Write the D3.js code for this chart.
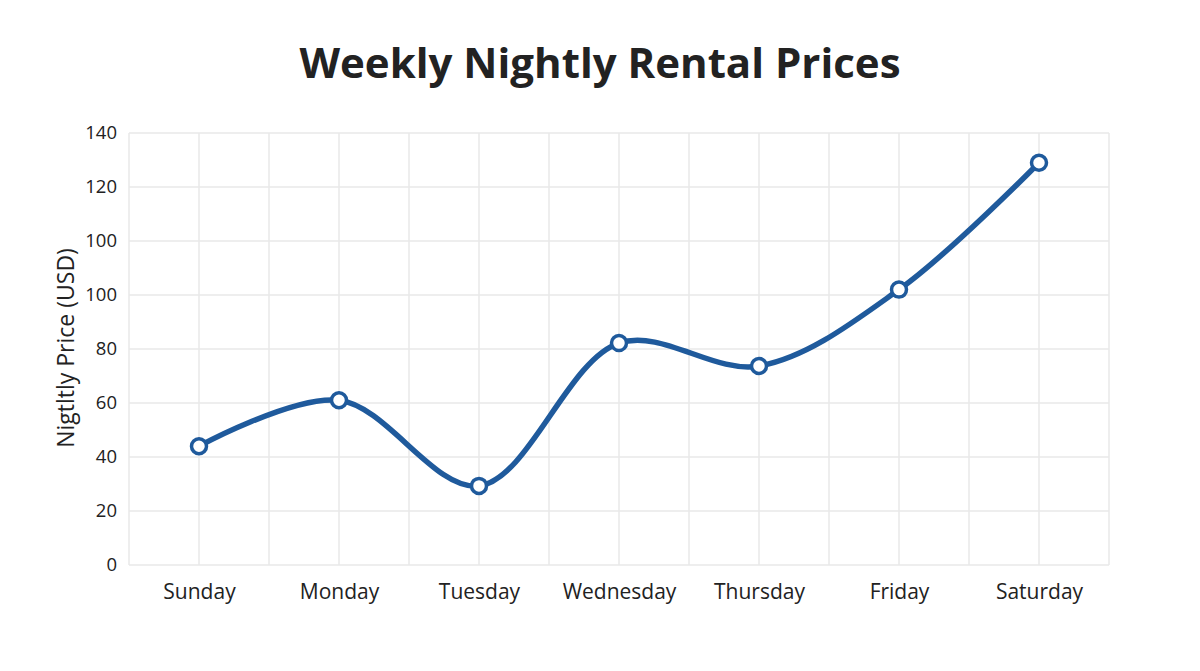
<!DOCTYPE html>
<html lang="en">
<head>
<meta charset="utf-8">
<title>Weekly Nightly Rental Prices</title>
<script src="https://d3js.org/d3.v7.min.js"></script>
<style>
  body { margin: 0; background: #fff; }
  text { font-family: "Open Sans", "Noto Sans", sans-serif; fill: #222; }
</style>
</head>
<body>
<svg id="chart" width="1200" height="671"></svg>
<script>
// data (y in axis units, 20 per gridline)
let days = ['Sunday', 'Monday', 'Tuesday', 'Wednesday', 'Thursday', 'Friday', 'Saturday'];
let prices = [44, 61, 29.3, 82.2, 73.7, 102, 149];
let yTicks = [0, 20, 40, 60, 80, 100, 120, 140, 160];
let yTickLabels = ['0', '20', '40', '60', '80', '100', '100', '120', '140'];

let svg = d3.select('#chart');
let margin = {top: 133, right: 91, bottom: 106, left: 129};
let width = +svg.attr('width') - margin.left - margin.right;
let height = +svg.attr('height') - margin.top - margin.bottom;
let blue = '#1f5a9c';

let canvas = svg.append('g')
    .attr('transform', `translate(${margin.left}, ${margin.top})`);

let x = d3.scalePoint().domain(days).range([0, width]).padding(0.5);
let y = d3.scaleLinear().domain([0, 160]).range([height, 0]);

// grid: one line at each day and one halfway between
let half = x.step() / 2;
let vlines = d3.range(0, days.length * 2 + 1).map(i => i * half);
canvas.append('g').selectAll('line')
    .data(vlines).join('line')
    .attr('x1', d => d).attr('x2', d => d)
    .attr('y1', 0).attr('y2', height)
    .attr('stroke', '#e8e8e8').attr('stroke-width', 1.5);
canvas.append('g').selectAll('line')
    .data(yTicks).join('line')
    .attr('x1', 0).attr('x2', width)
    .attr('y1', d => y(d)).attr('y2', d => y(d))
    .attr('stroke', '#e8e8e8').attr('stroke-width', 1.5);

// axes
let yAxis = canvas.append('g')
    .call(d3.axisLeft(y).tickValues(yTicks).tickSize(0).tickPadding(12)
        .tickFormat((d, i) => yTickLabels[i]));
yAxis.select('.domain').remove();
yAxis.selectAll('text').style('font-size', '18.5px').attr('fill', '#222');

let xAxis = canvas.append('g')
    .attr('transform', `translate(0, ${height})`)
    .call(d3.axisBottom(x).tickSize(0).tickPadding(19));
xAxis.select('.domain').remove();
xAxis.selectAll('text').style('font-size', '21px').attr('fill', '#222');

// line
let line = d3.line()
    .x((d, i) => x(days[i]))
    .y(d => y(d))
    .curve(d3.curveCatmullRom.alpha(0.5));
canvas.append('path')
    .datum(prices)
    .attr('d', line)
    .attr('fill', 'none')
    .attr('stroke', blue)
    .attr('stroke-width', 5.5)
    .attr('stroke-linecap', 'round');

canvas.append('g').selectAll('circle')
    .data(prices).join('circle')
    .attr('cx', (d, i) => x(days[i]))
    .attr('cy', d => y(d))
    .attr('r', 7.5)
    .attr('fill', '#fff')
    .attr('stroke', blue)
    .attr('stroke-width', 3.5);

// titles
svg.append('text')
    .attr('x', 600).attr('y', 78)
    .attr('text-anchor', 'middle')
    .style('font-size', '42px').style('font-weight', 'bold')
    .attr('fill', '#2a2a2a')
    .text('Weekly Nightly Rental Prices');

svg.append('text')
    .attr('transform', `translate(74, ${margin.top + height / 2 - 1}) rotate(-90)`)
    .attr('text-anchor', 'middle')
    .style('font-size', '23px')
    .text('Nigtltly Price (USD)');
</script>
</body>
</html>
